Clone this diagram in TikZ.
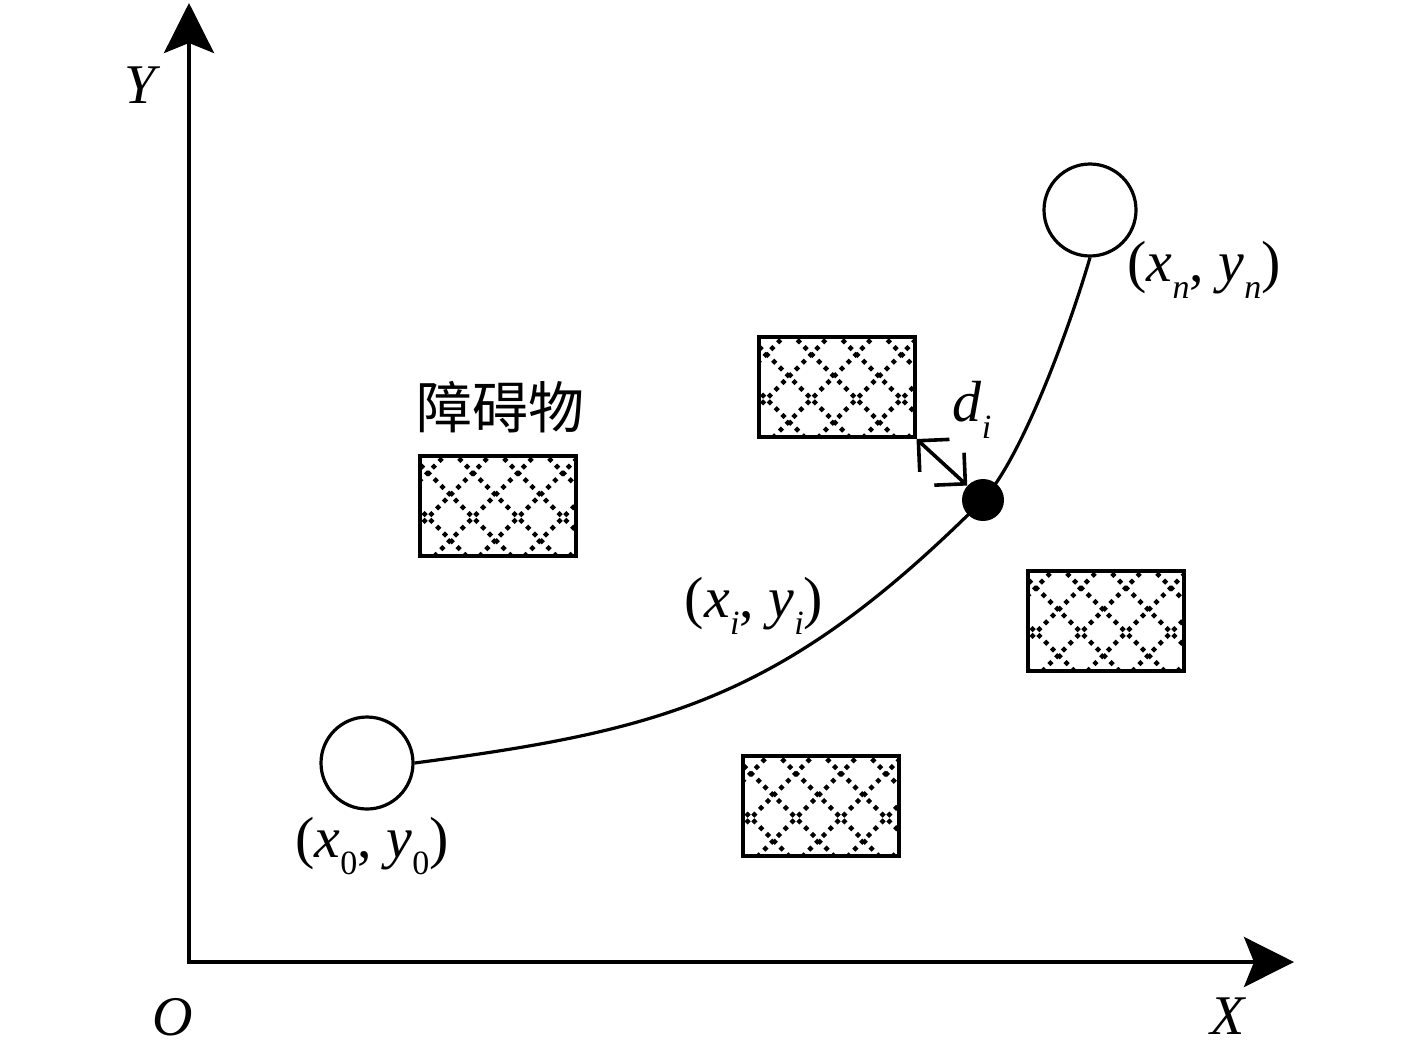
\documentclass[tikz,border=0pt]{standalone}
\usepackage{fontspec}
\setmainfont{Liberation Serif}
\newfontfamily\cjk{Noto Sans CJK SC}
\usetikzlibrary{arrows.meta,calc}
\newcommand\lowsub[1]{\raisebox{-0.3em}{\fontsize{17}{17}\selectfont#1}}

\begin{document}
\begin{tikzpicture}[
  x=0.5pt,
  y=-0.5pt,
  axis/.style={
    line width=2pt,
    {Stealth[length=25pt,width=25pt,inset=5pt]}-{Stealth[length=25pt,width=25pt,inset=5pt]}
  },
  obstacle/.style={
    draw,
    line width=2pt,
    minimum width=78pt,
    minimum height=50pt,
    inner sep=0pt
  },
  hatch/.style={
    line width=2.2pt,
    dash pattern=on 2.2pt off 2.6pt
  },
  endpoint/.style={
    circle,
    draw,
    fill=white,
    line width=1.6pt,
    minimum size=46pt,
    inner sep=0pt
  },
  waypoint/.style={
    circle,
    fill=black,
    minimum size=21pt,
    inner sep=0pt
  },
  trajectory/.style={
    line width=1.6pt
  },
  gap/.style={
    line width=1.8pt,
    {Straight Barb[length=11pt,width=22pt]}-{Straight Barb[length=11pt,width=22pt]}
  },
  coordtext/.style={
    font=\fontsize{29}{30}\selectfont
  },
  cjktext/.style={
    font=\cjk\fontsize{28}{30}\selectfont
  },
  axistext/.style={
    font=\fontsize{28}{30}\selectfont\itshape
  }
]
\useasboundingbox (0,0) rectangle (1417,1051);

\coordinate (O) at (189,962);
\coordinate (Ytip) at (189,3);
\coordinate (Xtip) at (1294,962);
\draw[axis] (Ytip) -- (O) -- (Xtip);

\node[axistext] (ylab) at (140,85) {Y};
\node[axistext] (olab) at (173,1017) {O};
\node[axistext] (xlab) at (1228,1016) {X};

\node[obstacle] (obsA) at (498,505.5) {};
\node[obstacle] (obsB) at (836.5,387) {};
\node[obstacle] (obsC) at (1106,620.5) {};
\node[obstacle] (obsD) at (821,806) {};

\foreach \obs in {obsA,obsB,obsC,obsD} {
  \begin{scope}
    \clip ($(\obs.north west)+(3,3)$) rectangle ($(\obs.south east)+(-3,-3)$);
    \foreach \k in {-3,...,6} {
      \draw[hatch] ($(\obs.north west)+(\k*45-140,-131)$) -- ++(300,300);
      \draw[hatch] ($(\obs.north west)+(\k*45+160,-131)$) -- ++(-300,300);
    }
  \end{scope}
}

\node[endpoint] (start) at (367,763) {};
\node[endpoint] (goal) at (1090,210) {};
\node[waypoint] (wp) at (983,500) {};

\draw[trajectory] (start.east) .. controls (663,730) and (783,700) .. (wp.center)
  .. controls (1023,456) and (1070,326) .. (goal.south);

\draw[gap] (obsB.south east) -- (wp);

\node[cjktext] (name) at (500,407) {障碍物};
\node[coordtext] (startlab) at (372,846)
  {(\textit{x}\lowsub{0}, \textit{y}\lowsub{0})};
\node[coordtext] (goallab) at (1204,270)
  {(\textit{x}\lowsub{\textit{n}}, \textit{y}\lowsub{\textit{n}})};
\node[coordtext] (wplab) at (754,606)
  {(\textit{x}\lowsub{\textit{i}}, \textit{y}\lowsub{\textit{i}})};
\node[coordtext] (dlab) at (972,410)
  {\textit{d}\lowsub{\textit{i}}};

\end{tikzpicture}
\end{document}
